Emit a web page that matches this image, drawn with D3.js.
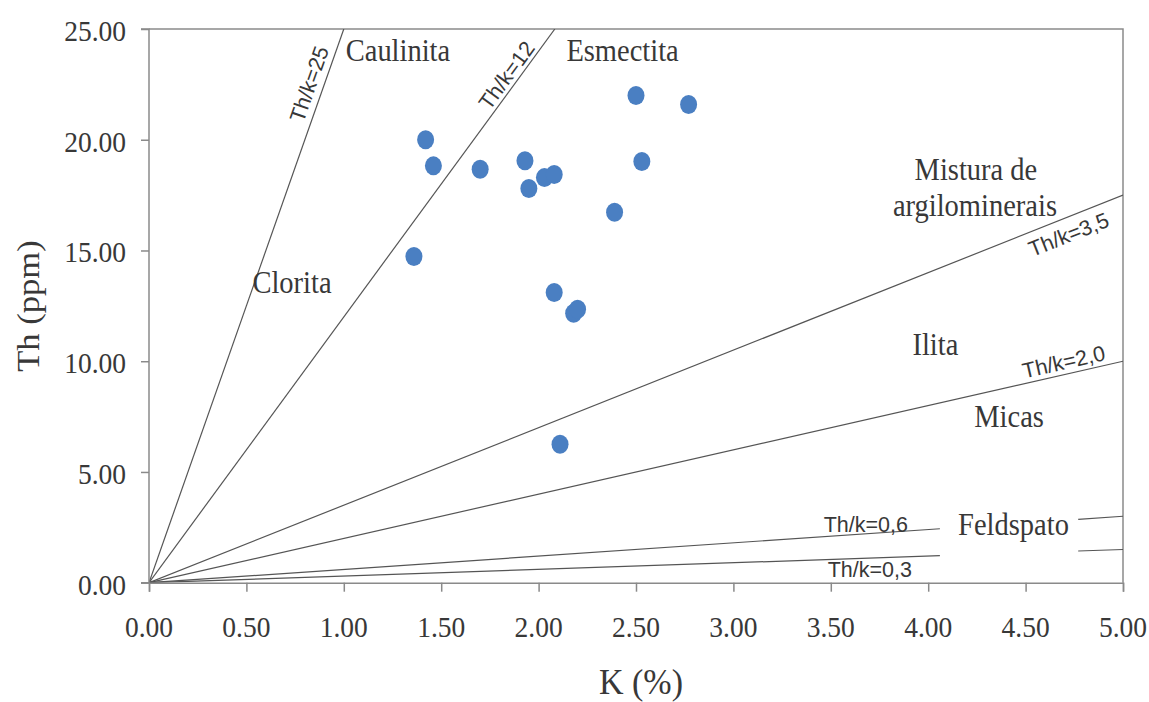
<!DOCTYPE html>
<html>
<head>
<meta charset="utf-8">
<script src="https://cdn.jsdelivr.net/npm/d3@7"></script>
<style>
  html, body { margin: 0; padding: 0; background: #ffffff; }
  svg { display: block; }
</style>
</head>
<body>
<svg id="chart" width="1149" height="702"></svg>
<script>
// Samples: potassium (%) vs thorium (ppm)
const kValues  = [1.42, 1.46, 1.70, 1.93, 1.95, 2.03, 2.08, 2.50, 2.77, 2.53, 2.39, 1.36, 2.08, 2.18, 2.20, 2.11];
const thValues = [20.00, 18.82, 18.67, 19.05, 17.80, 18.29, 18.43, 22.00, 21.59, 19.02, 16.73, 14.73, 13.10, 12.17, 12.35, 6.25];

// Th/K reference ratios and their labels
const ratios      = [25, 12, 3.5, 2.0, 0.6, 0.3];
const ratioLabels = ["Th/k=25", "Th/k=12", "Th/k=3,5", "Th/k=2,0", "Th/k=0,6", "Th/k=0,3"];

// Mineral fields
const regionNames = ["Caulinita", "Esmectita", "Clorita", "Mistura de", "argilominerais", "Ilita", "Micas", "Feldspato"];

// Axis ticks
const xTicks = [0, 0.5, 1, 1.5, 2, 2.5, 3, 3.5, 4, 4.5, 5];
const yTicks = [0, 5, 10, 15, 20, 25];
const xTitle = "K (%)";
const yTitle = "Th (ppm)";

// ---------- layout ----------
const plot = { left: 149, right: 1123, top: 29, bottom: 582.7 };
const serif = "'Liberation Serif', 'Times New Roman', serif";
const sans  = "'Liberation Sans', Arial, sans-serif";
const textColor = "#383838";
const axisColor = "#8a8a8a";
const lineColor = "#555555";
const dotColor  = "#4a7fc2";
const stretch = 1.08;   // slight vertical stretch of serif text

const svg = d3.select("#chart");
const x = d3.scaleLinear().domain([0, 5]).range([plot.left, plot.right]);
const y = d3.scaleLinear().domain([0, 25]).range([plot.bottom, plot.top]);

// plot frame (top and right edges)
svg.append("path")
  .attr("d", `M${plot.left},${plot.top}H${plot.right}V${plot.bottom}`)
  .attr("fill", "none").attr("stroke", axisColor).attr("stroke-width", 1.5);

// ---------- reference lines ----------
// the two lowest lines leave a gap for the "Feldspato" label
const gapRange = { lo: 4.06, hi: 4.77 };
svg.append("defs").append("clipPath").attr("id", "plotClip")
  .append("rect").attr("x", plot.left).attr("y", plot.top)
  .attr("width", plot.right - plot.left).attr("height", plot.bottom - plot.top);
const lineLayer = svg.append("g").attr("clip-path", "url(#plotClip)");

ratios.forEach((r, i) => {
  const kEnd = Math.min(5, 25 / r);
  let segs = [[0, kEnd]];
  if (i >= 4) segs = [[0, gapRange.lo], [gapRange.hi, 5]];
  segs.forEach(([k0, k1]) => {
    lineLayer.append("line")
      .attr("x1", x(k0)).attr("y1", y(k0 * r))
      .attr("x2", x(k1)).attr("y2", y(k1 * r))
      .attr("stroke", lineColor).attr("stroke-width", 1.2);
  });
});

// ratio labels: anchor K along each line, perpendicular offset, rotation flag
const ratioLabelLayout = [
  { k: 22.3 / 25, dy: -7, rotate: true },
  { k: 22.6 / 12, dy: -4, rotate: true },
  { k: 4.69, dy: 24, rotate: true },
  { k: 4.71, dy: -5, rotate: true },
  { k: 3.68, dy: -2, rotate: false },
  { k: 3.70, dy: 19, rotate: false }
];
ratios.forEach((r, i) => {
  const L = ratioLabelLayout[i];
  const px = x(L.k), py = y(L.k * r);
  const ang = L.rotate ? Math.atan2(y(r) - y(0), x(1) - x(0)) * 180 / Math.PI : 0;
  svg.append("text")
    .attr("transform", `translate(${px},${py}) rotate(${ang})`)
    .attr("y", L.dy)
    .attr("text-anchor", "middle")
    .attr("font-family", sans).attr("font-size", 21.5)
    .attr("fill", textColor)
    .text(ratioLabels[i]);
});

// ---------- axes ----------
const yAxis = d3.axisLeft(y).tickValues(yTicks).tickSize(8).tickFormat("");
const xAxis = d3.axisBottom(x).tickValues(xTicks).tickSize(9).tickFormat("");

const gy = svg.append("g").attr("transform", `translate(${plot.left},0)`).call(yAxis);
const gx = svg.append("g").attr("transform", `translate(0,${plot.bottom})`).call(xAxis);
[gx, gy].forEach(g => {
  g.select(".domain").attr("stroke", axisColor).attr("stroke-width", 1.5);
  g.selectAll(".tick line").attr("stroke", axisColor).attr("stroke-width", 1.5);
});
gy.select(".domain").attr("d", `M-8,${plot.top}H0V${plot.bottom}H-8`);

function serifText(px, py, str, size, anchor) {
  return svg.append("text")
    .attr("transform", `translate(${px},${py}) scale(1,${stretch})`)
    .attr("text-anchor", anchor)
    .attr("font-family", serif).attr("font-size", size)
    .attr("fill", textColor)
    .text(str);
}

yTicks.forEach(v => serifText(126, y(v) + 12, v.toFixed(2), 27.5, "end"));
xTicks.forEach(v => serifText(x(v), 637, v.toFixed(2), 27.5, "middle"));

// axis titles
serifText(641, 694, xTitle, 34, "middle");
svg.append("text")
  .attr("transform", `translate(39,306) rotate(-90) scale(${stretch},1)`)
  .attr("text-anchor", "middle")
  .attr("font-family", serif).attr("font-size", 32)
  .attr("fill", textColor)
  .text(yTitle);

// ---------- field labels (anchor in data units) ----------
const regionLayout = [
  [1.278, 23.55], [2.431, 23.55], [0.734, 13.08], [4.245, 18.17],
  [4.240, 16.56], [4.037, 10.26], [4.415, 7.03], [4.438, 2.15]
];
regionNames.forEach((name, i) => {
  const [k, th] = regionLayout[i];
  serifText(x(k), y(th), name, 28.5, "middle");
});

// ---------- samples ----------
svg.append("g").selectAll("ellipse")
  .data(kValues.map((k, i) => ({ k, th: thValues[i] })))
  .join("ellipse")
  .attr("cx", d => x(d.k)).attr("cy", d => y(d.th))
  .attr("rx", 8.5).attr("ry", 9.5)
  .attr("fill", dotColor);
</script>
</body>
</html>
